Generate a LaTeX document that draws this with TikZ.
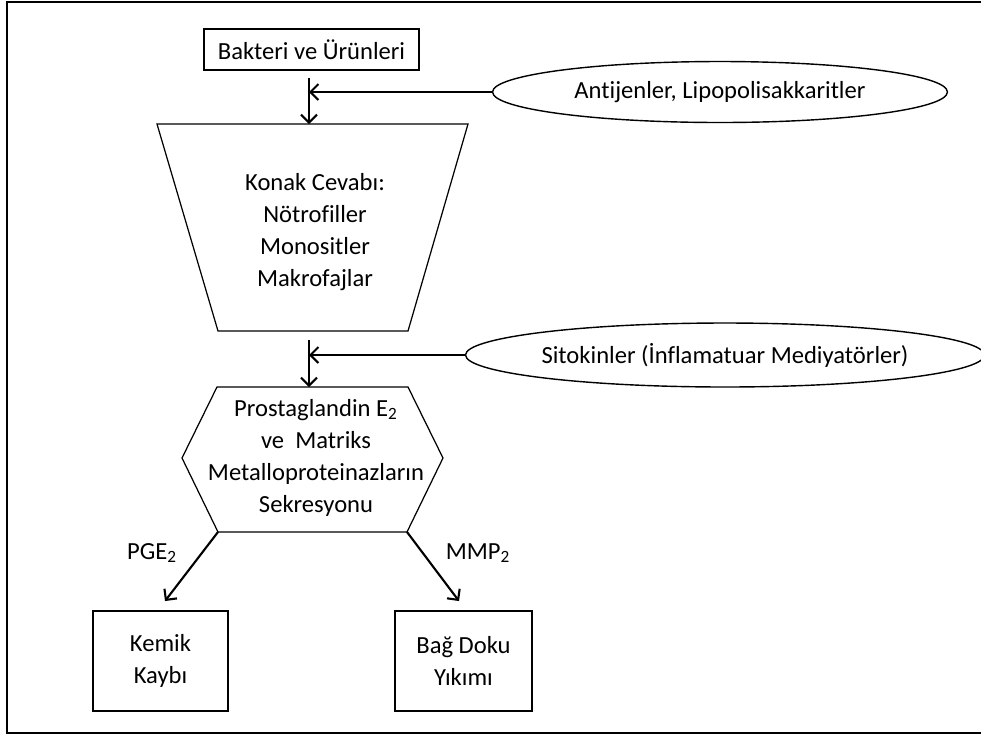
\documentclass[tikz,border=0pt]{standalone}
\usepackage{fontspec}
\setmainfont{Carlito}[Ligatures=NoCommon]
\usetikzlibrary{shapes.geometric,arrows.meta,calc}
\tikzset{
  box/.style={draw,line width=1.1pt,align=center,inner sep=0pt},
  oval/.style={draw,ellipse,line width=0.8pt,inner sep=0pt},
  arr/.style={-{Straight Barb[length=4.5pt,width=9pt]},line width=1.2pt},
}
\begin{document}
\begin{tikzpicture}[x=0.02cm,y=-0.02cm,font=\fontsize{14}{18.2}\selectfont]
  \useasboundingbox (0,0) rectangle (981,735);
  \draw[line width=1.2pt] (990,2)--(7,2)--(7,733)--(990,733);
  % bacteria and antigens
  \node[box,minimum width=4.3cm,minimum height=0.82cm] (bakteri) at (311.5,49.5)
    {Bakteri ve Ürünleri};
  \node[oval,minimum width=9.1cm,minimum height=1.22cm] (antijen) at (720,92)
    {Antijenler, Lipopolisakkaritler};
  % host response
  \draw[line width=0.7pt] (157,124)--(468,124)--(408,331)--(218,331)--cycle;
  \coordinate (konakN) at (309,124);
  \coordinate (konakS) at (309,331);
  \node[align=center] (konak) at (315,232.5)
    {Konak Cevabı:\\Nötrofiller\\Monositler\\Makrofajlar};
  \coordinate (j1) at (309,92);
  \draw[arr,shorten <=0.14cm] (bakteri.south -| konakN) -- (konakN);
  \draw[arr] (antijen) -- (j1);
  % cytokines
  \node[oval,minimum width=9.32cm,minimum height=1.28cm] (sito) at (725,355)
    {Sitokinler (İnflamatuar Mediyatörler)};
  \draw[line width=0.7pt] (217,387)--(408,387)--(443,458)--(407,532)--(218,532)--(182,458)--cycle;
  \coordinate (hexN) at (309,387);
  \coordinate (hexSW) at (218,532);
  \coordinate (hexSE) at (407,532);
  \node[align=center] (prost) at (316,457.5)
    {Prostaglandin E\textsubscript{2}\\ve~ Matriks\\Metalloproteinazların\\Sekresyonu};
  \coordinate (j2) at (309,355);
  \draw[arr,shorten <=0.18cm] (konakS) -- (hexN);
  \draw[arr] (sito) -- (j2);
  % results
  \node[box,minimum width=2.7cm,minimum height=2cm] (kemik) at (160.5,661)
    {Kemik\\Kaybı};
  \node[box,minimum width=2.74cm,minimum height=2cm] (bag) at (463.5,661)
    {Bağ Doku\\Yıkımı};
  \draw[arr] (hexSW) -- ($(kemik.north)+(4.5,-9)$);
  \draw[arr] (hexSE) -- ($(bag.north)+(-4.5,-9)$);
  \node (pge) at (152,553) {PGE\textsubscript{2}};
  \node (mmp) at (478,553) {MMP\textsubscript{2}};
\end{tikzpicture}
\end{document}
